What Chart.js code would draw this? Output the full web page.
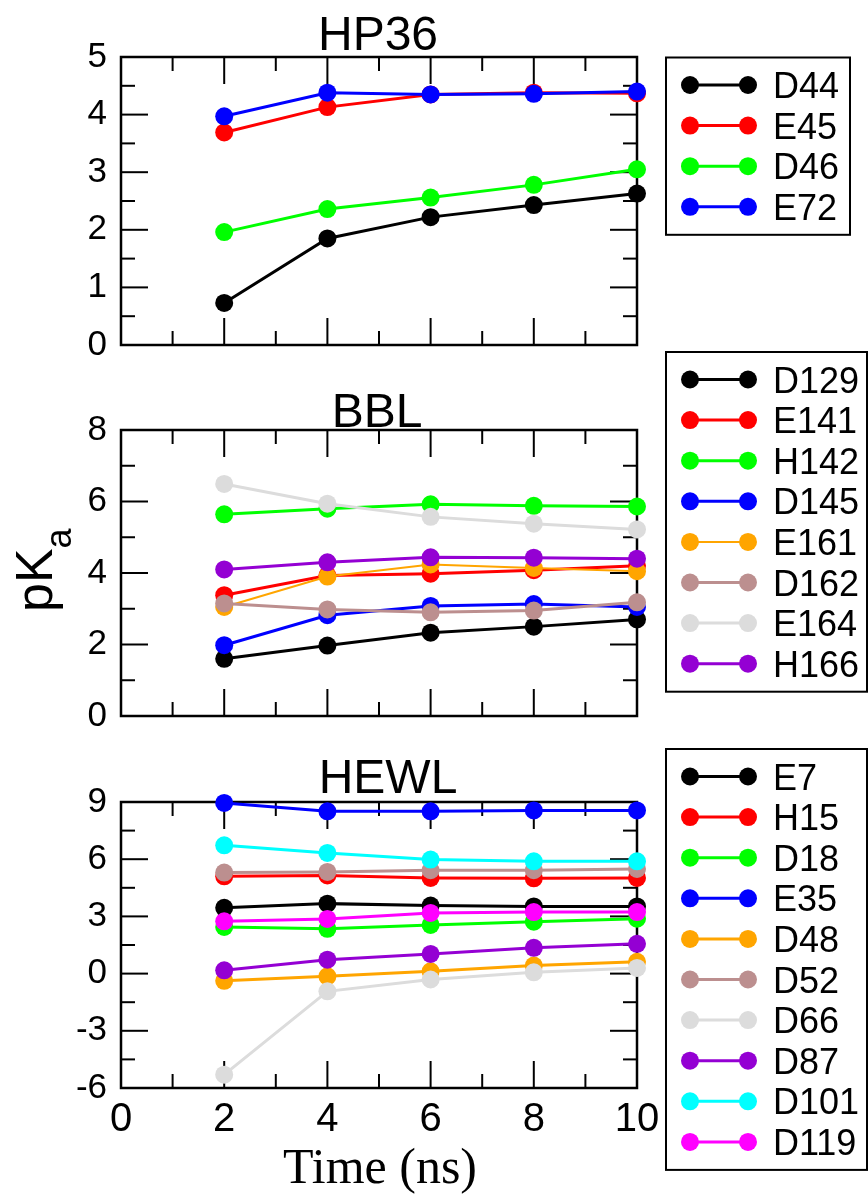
<!DOCTYPE html>
<html lang="en">
<head>
    <meta charset="UTF-8">
    <title>pKa convergence</title>
    <script src="https://cdn.jsdelivr.net/npm/chart.js"></script>
    <style>
        body { margin: 0; background: #fff; }
        .wrap { position: relative; width: 868px; height: 1196px; }
        .wrap canvas { position: absolute; left: 0; }
    </style>
</head>
<body>
    <div class="wrap">
        <canvas id="hp36" width="868" height="380" style="top:0px"></canvas>
        <canvas id="bbl" width="868" height="420" style="top:340px"></canvas>
        <canvas id="hewl" width="868" height="456" style="top:740px"></canvas>
    </div>

    <script>
        // simulation time (ns)
        const times = [2, 4, 6, 8, 10];

        // HP36
        const hp36Names = ['D44', 'E45', 'D46', 'E72'];
        const hp36_D44 = [0.73, 1.85, 2.22, 2.43, 2.63];
        const hp36_E45 = [3.69, 4.13, 4.35, 4.38, 4.37];
        const hp36_D46 = [1.96, 2.36, 2.56, 2.78, 3.05];
        const hp36_E72 = [3.97, 4.38, 4.35, 4.36, 4.40];

        // BBL
        const bblNames = ['D129', 'E141', 'H142', 'D145', 'E161', 'D162', 'E164', 'H166'];
        const bbl_D129 = [1.60, 1.97, 2.33, 2.50, 2.70];
        const bbl_E141 = [3.38, 3.93, 3.98, 4.08, 4.20];
        const bbl_H142 = [5.64, 5.80, 5.92, 5.88, 5.86];
        const bbl_D145 = [1.98, 2.82, 3.08, 3.13, 3.05];
        const bbl_E161 = [3.05, 3.90, 4.24, 4.14, 4.05];
        const bbl_D162 = [3.15, 2.98, 2.90, 2.95, 3.18];
        const bbl_E164 = [6.49, 5.94, 5.57, 5.38, 5.22];
        const bbl_H166 = [4.10, 4.30, 4.44, 4.43, 4.40];

        // HEWL
        const hewlNames = ['E7', 'H15', 'D18', 'E35', 'D48', 'D52', 'D66', 'D87', 'D101', 'D119'];
        const hewl_E7   = [3.45, 3.67, 3.57, 3.52, 3.52];
        const hewl_H15  = [5.10, 5.15, 5.02, 5.00, 5.02];
        const hewl_D18  = [2.45, 2.35, 2.55, 2.72, 2.88];
        const hewl_E35  = [8.95, 8.51, 8.51, 8.56, 8.56];
        const hewl_D48  = [-0.38, -0.14, 0.12, 0.42, 0.62];
        const hewl_D52  = [5.30, 5.33, 5.42, 5.42, 5.49];
        const hewl_D66  = [-5.30, -0.93, -0.31, 0.07, 0.30];
        const hewl_D87  = [0.17, 0.73, 1.03, 1.35, 1.56];
        const hewl_D101 = [6.73, 6.33, 5.98, 5.89, 5.89];
        const hewl_D119 = [2.74, 2.87, 3.18, 3.23, 3.23];

        // grace-like palette
        const BLACK = '#000000', RED = '#ff0000', GREEN = '#00ff00', BLUE = '#0000ff',
              ORANGE = '#ffa500', BROWN = '#bc8f8f', GREY = '#dcdcdc', VIOLET = '#9400d3',
              CYAN = '#00ffff', MAGENTA = '#ff00ff';

        const SANS = '"Liberation Sans", Arial, Helvetica, sans-serif';
        const SERIF = '"Liberation Serif", "Times New Roman", serif';

        function line(ctx, x1, y1, x2, y2) {
            ctx.beginPath();
            ctx.moveTo(x1, y1);
            ctx.lineTo(x2, y2);
            ctx.stroke();
        }

        // frame, inward ticks, titles and the boxed legend
        const panelDecor = {
            id: 'panelDecor',
            beforeDatasetsDraw(chart, args, o) {
                const ctx = chart.ctx, a = chart.chartArea;
                const xs = chart.scales.x, ys = chart.scales.y;
                ctx.save();
                ctx.strokeStyle = '#000';
                ctx.lineWidth = 2;
                for (let i = 0; i <= 10; i++) {
                    const px = xs.getPixelForValue(i);
                    const len = i % 2 === 0 ? 27 : 14;
                    line(ctx, px, a.bottom, px, a.bottom - len);
                    line(ctx, px, a.top, px, a.top + len);
                }
                const n = Math.round((o.yMax - o.yMin) / (o.yStep / 2));
                for (let i = 0; i <= n; i++) {
                    const py = ys.getPixelForValue(o.yMin + i * o.yStep / 2);
                    const len = i % 2 === 0 ? 27 : 14;
                    line(ctx, a.left, py, a.left + len, py);
                    line(ctx, a.right, py, a.right - len, py);
                }
                ctx.lineWidth = 2.5;
                ctx.strokeRect(a.left, a.top, a.right - a.left, a.bottom - a.top);
                ctx.restore();
            },
            afterDraw(chart, args, o) {
                const ctx = chart.ctx;
                ctx.save();
                ctx.fillStyle = '#000';

                // panel title
                ctx.font = '48px ' + SANS;
                ctx.textAlign = 'center';
                ctx.textBaseline = 'alphabetic';
                ctx.fillText(o.title, o.titleX, o.titleY);

                // legend box
                const ds = chart.data.datasets;
                const bx = 666, by = o.legendTop, step = 40.6;
                const bh = 55.5 + step * (ds.length - 1);
                ctx.strokeStyle = '#000';
                ctx.lineWidth = 2;
                ctx.strokeRect(bx, by, o.legendRight - bx, bh);
                ctx.font = '36px ' + SANS;
                ctx.textAlign = 'left';
                ds.forEach((d, i) => {
                    const cy = by + 27.5 + i * step;
                    ctx.strokeStyle = d.borderColor;
                    ctx.lineWidth = d.borderWidth;
                    line(ctx, 690, cy, 748, cy);
                    ctx.fillStyle = d.backgroundColor;
                    [690, 748].forEach(cx => {
                        ctx.beginPath();
                        ctx.arc(cx, cy, 9, 0, Math.PI * 2);
                        ctx.fill();
                    });
                    ctx.fillStyle = '#000';
                    ctx.fillText(d.label, 773, cy + 13);
                });

                // shared y label on the middle panel
                if (o.yLabel) {
                    ctx.translate(52, 272);
                    ctx.rotate(-Math.PI / 2);
                    ctx.font = '52px ' + SANS;
                    ctx.fillText('pK', 0, 0);
                    const w = ctx.measureText('pK').width;
                    ctx.font = '36px ' + SANS;
                    ctx.fillText('a', w, 19);
                }
                ctx.restore();

                // x axis title on the bottom panel
                if (o.xLabel) {
                    ctx.save();
                    ctx.font = '50px ' + SERIF;
                    ctx.textAlign = 'center';
                    ctx.fillStyle = '#000';
                    ctx.fillText(o.xLabel, 380, 443);
                    ctx.restore();
                }
            }
        };

        function makePanel(id, names, series, colors, widths, cfg) {
            const datasets = series.map((vals, i) => ({
                label: names[i],
                data: times.map((t, k) => ({ x: t, y: vals[k] })),
                borderColor: colors[i],
                backgroundColor: colors[i],
                borderWidth: widths ? widths[i] : 3,
                pointRadius: 9,
                pointHoverRadius: 9,
                pointBorderWidth: 0,
                tension: 0,
                clip: false,
                order: -i
            }));

            return new Chart(document.getElementById(id), {
                type: 'line',
                data: { datasets: datasets },
                options: {
                    responsive: false,
                    animation: false,
                    events: [],
                    layout: { padding: { left: 0, right: 231, top: cfg.padTop, bottom: cfg.padBottom } },
                    scales: {
                        x: {
                            type: 'linear',
                            min: 0,
                            max: 10,
                            display: cfg.showX,
                            grid: { display: false, drawTicks: false },
                            border: { display: false },
                            ticks: {
                                stepSize: 2,
                                padding: 8,
                                color: '#000',
                                maxRotation: 0,
                                autoSkip: false,
                                font: { family: SANS, size: 40 }
                            },
                            afterFit: s => { s.height = cfg.showX ? 108 : 0; }
                        },
                        y: {
                            min: cfg.yMin,
                            max: cfg.yMax,
                            grid: { display: false, drawTicks: false },
                            border: { display: false },
                            ticks: {
                                stepSize: cfg.yStep,
                                padding: 14,
                                color: '#000',
                                autoSkip: false,
                                font: { family: SANS, size: 35 }
                            },
                            afterFit: s => { s.width = 121; }
                        }
                    },
                    plugins: {
                        legend: { display: false },
                        tooltip: { enabled: false },
                        panelDecor: {
                            title: cfg.title,
                            titleX: cfg.titleX,
                            titleY: cfg.titleY,
                            legendTop: cfg.legendTop,
                            legendRight: cfg.legendRight,
                            yMin: cfg.yMin,
                            yMax: cfg.yMax,
                            yStep: cfg.yStep,
                            yLabel: cfg.yLabel || false,
                            xLabel: cfg.xLabel || null
                        }
                    }
                },
                plugins: [panelDecor]
            });
        }

        makePanel('hp36', hp36Names,
            [hp36_D44, hp36_E45, hp36_D46, hp36_E72],
            [BLACK, RED, GREEN, BLUE], null,
            { padTop: 57, padBottom: 35, showX: false, yMin: 0, yMax: 5, yStep: 1,
              title: 'HP36', titleX: 378, titleY: 50, legendTop: 57.5, legendRight: 850 });

        makePanel('bbl', bblNames,
            [bbl_D129, bbl_E141, bbl_H142, bbl_D145, bbl_E161, bbl_D162, bbl_E164, bbl_H166],
            [BLACK, RED, GREEN, BLUE, ORANGE, BROWN, GREY, VIOLET],
            [3, 3, 3, 3, 2, 3, 3, 3],
            { padTop: 90, padBottom: 44, showX: false, yMin: 0, yMax: 8, yStep: 2,
              title: 'BBL', titleX: 377, titleY: 87, legendTop: 12, legendRight: 867, yLabel: true });

        makePanel('hewl', hewlNames,
            [hewl_E7, hewl_H15, hewl_D18, hewl_E35, hewl_D48, hewl_D52, hewl_D66, hewl_D87, hewl_D101, hewl_D119],
            [BLACK, RED, GREEN, BLUE, ORANGE, BROWN, GREY, VIOLET, CYAN, MAGENTA], null,
            { padTop: 62, padBottom: 0, showX: true, yMin: -6, yMax: 9, yStep: 3,
              title: 'HEWL', titleX: 388, titleY: 53, legendTop: 9, legendRight: 867, xLabel: 'Time (ns)' });
    </script>
</body>
</html>
